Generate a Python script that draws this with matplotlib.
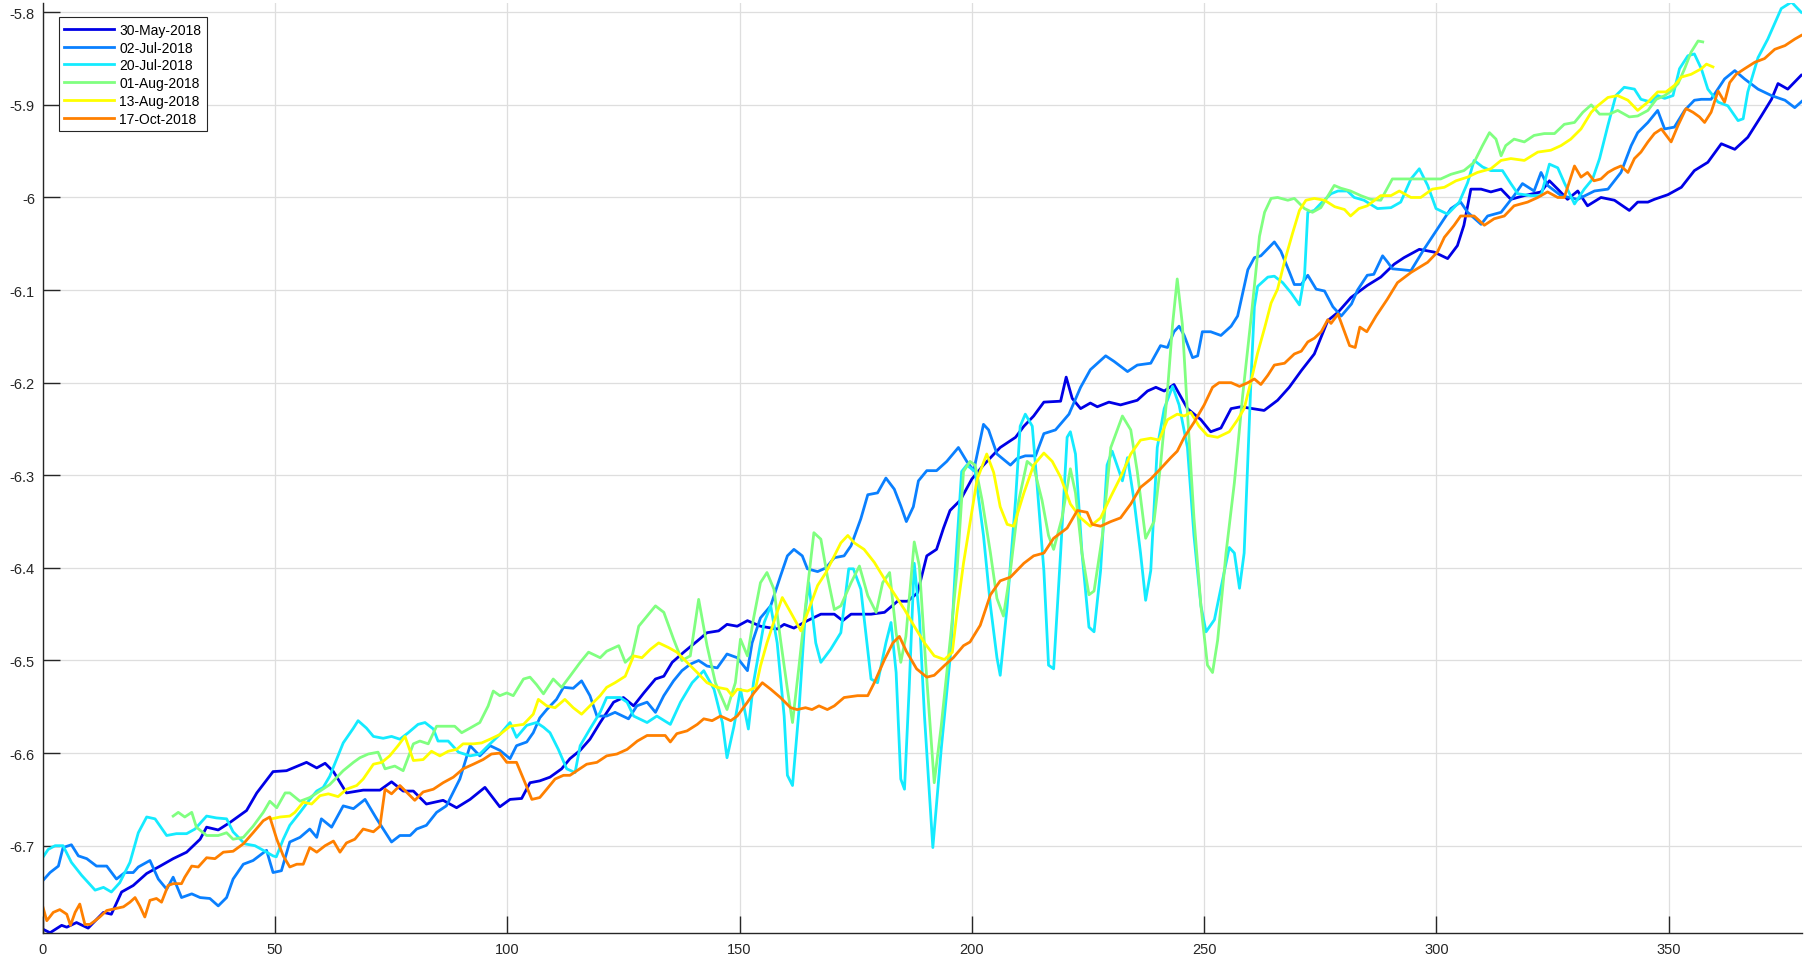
import matplotlib
matplotlib.use('Agg')
import matplotlib.pyplot as plt

plt.rcParams['font.family'] = ['Liberation Sans', 'DejaVu Sans']

labels = ['30-May-2018', '02-Jul-2018', '20-Jul-2018',
          '01-Aug-2018', '13-Aug-2018', '17-Oct-2018']
colors = ['#0000E6', '#0A80FF', '#14EBFF', '#80FF80', '#FFFF00', '#FF8000']

# 30-May-2018
x_may30 = [0, 1.6, 4.1, 5.2, 7.3, 9.8, 13.1, 14.8, 17, 19.5, 22.4, 25.3, 28.1, 31, 33.9, 35.3,
           37.8, 40.3, 43.9, 46.1, 49.6, 52.5, 56.8, 59, 60.8, 62.6, 65.4, 69, 72.6, 75.1,
           77.6, 79.8, 82.6, 86.2, 89.1, 92, 95.2, 98.4, 100.6, 103.1, 104.9, 107, 109.2,
           111.7, 113.5, 115.7, 117.8, 120, 122.9, 125, 127.2, 129.4, 131.9, 133.7, 135.5,
           138, 140.9, 143, 145.5, 147.3, 149.5, 151.7, 154.5, 158.1, 159.6, 161.7, 164.6,
           167.5, 170.4, 172.2, 174, 178.3, 181.2, 184, 186.2, 188.3, 190.3, 192.4, 193.9,
           195.3, 197.5, 200, 202.5, 206.1, 209.4, 211.2, 213.3, 215.5, 219.1, 220.3, 221.6,
           223.4, 225.5, 227, 229.5, 232, 235.6, 237.8, 239.6, 241.4, 243.5, 246.4, 249.3,
           251.4, 253.6, 255.8, 257.9, 262.9, 265.8, 268.3, 270.9, 273.7, 276.6, 278.8,
           281.6, 285.1, 288, 290.9, 293, 296.3, 299.5, 302.4, 304.5, 305.9, 307.4, 309.6,
           311.7, 313.9, 316, 318.9, 322.5, 324.3, 326.1, 328.2, 330.4, 332.5, 335.4, 338.3,
           341.5, 343.3, 345.5, 346.9, 349.8, 352.7, 355.5, 358.4, 361.3, 364.2, 367, 369.9,
           372.1, 373.5, 375.6, 378.5]
y_may30 = [-6.790, -6.794, -6.786, -6.788, -6.783, -6.789, -6.772, -6.774, -6.750, -6.743,
           -6.730, -6.722, -6.714, -6.707, -6.693, -6.680, -6.683, -6.675, -6.662, -6.643,
           -6.620, -6.619, -6.610, -6.616, -6.611, -6.620, -6.643, -6.640, -6.640, -6.631,
           -6.641, -6.641, -6.655, -6.651, -6.659, -6.650, -6.637, -6.658, -6.650, -6.649,
           -6.632, -6.630, -6.626, -6.617, -6.606, -6.597, -6.585, -6.567, -6.545, -6.540,
           -6.549, -6.535, -6.520, -6.517, -6.502, -6.491, -6.479, -6.470, -6.468, -6.461,
           -6.463, -6.457, -6.463, -6.466, -6.461, -6.465, -6.457, -6.450, -6.450, -6.457,
           -6.450, -6.450, -6.448, -6.436, -6.436, -6.427, -6.387, -6.380, -6.357, -6.338,
           -6.327, -6.304, -6.289, -6.270, -6.259, -6.247, -6.236, -6.221, -6.220, -6.194,
           -6.217, -6.228, -6.222, -6.226, -6.221, -6.224, -6.219, -6.209, -6.205, -6.209,
           -6.202, -6.228, -6.240, -6.253, -6.249, -6.228, -6.226, -6.230, -6.219, -6.205,
           -6.187, -6.169, -6.133, -6.124, -6.108, -6.095, -6.086, -6.072, -6.065, -6.056,
           -6.059, -6.066, -6.052, -6.030, -5.991, -5.991, -5.994, -5.991, -6.002, -5.998,
           -5.994, -5.982, -5.991, -6.002, -5.993, -6.009, -6.000, -6.003, -6.014, -6.005,
           -6.005, -6.002, -5.997, -5.989, -5.971, -5.962, -5.942, -5.948, -5.935, -5.912,
           -5.894, -5.877, -5.883, -5.868]

# 02-Jul-2018
x_jul02 = [0, 1.6, 3.4, 4.4, 6.2, 7.7, 9.5, 11.6, 13.8, 15.9, 17.7, 19.5, 20.6, 23.1, 24.9,
           26.7, 28.1, 29.9, 32.1, 33.9, 36, 37.8, 39.6, 41, 43.2, 45.3, 48.2, 49.6, 51.4,
           53.2, 55.4, 57.5, 59, 60, 62.2, 64.7, 66.9, 69.4, 71.9, 75.1, 76.9, 79.1, 80.5,
           82.6, 84.8, 86.9, 89.8, 92, 94.1, 96.3, 98.4, 100.6, 102, 104.2, 105.6, 107,
           108.5, 110.6, 112.1, 114.2, 116, 117.8, 119.3, 121.4, 123.2, 126.1, 127.9, 130.1,
           131.9, 133.7, 135.8, 137.6, 139.4, 141.2, 143, 145.2, 147.3, 149.5, 151.7, 152.7,
           154.5, 156.7, 158.8, 160.3, 161.7, 163.5, 164.6, 166.8, 168.6, 170.4, 172.5, 174,
           176.1, 177.6, 179.7, 181.5, 183.3, 184.7, 185.9, 187.4, 188.5, 190.3, 192.4,
           194.6, 197.1, 198.9, 200.4, 202.5, 203.6, 205.4, 208.3, 209.7, 211.5, 213.7,
           215.5, 218, 220.9, 223.4, 225.5, 228.8, 230.6, 233.5, 235.6, 238.5, 240.6, 242.1,
           243.5, 244.6, 245.7, 247.5, 248.6, 249.6, 251.4, 253.6, 255.8, 257.2, 259.4,
           260.8, 262.2, 265.1, 266.5, 268.3, 269.4, 270.9, 272.3, 274.1, 275.9, 277.7,
           279.5, 281.7, 283, 285.1, 286.5, 288.4, 289.5, 290.5, 294.5, 297.3, 300.2, 303.1,
           305.2, 306.7, 309.6, 311, 313.9, 316.7, 318.5, 321, 322.5, 323.9, 326.8, 330.4,
           334, 336.9, 339.7, 341.9, 343.3, 345.5, 347.6, 349.1, 351.2, 353.4, 355.5, 357,
           359.1, 362, 364.2, 366.3, 369.2, 372.1, 375, 377.1, 378.9]
y_jul02 = [-6.738, -6.729, -6.722, -6.702, -6.699, -6.711, -6.714, -6.722, -6.722, -6.736,
           -6.729, -6.729, -6.723, -6.716, -6.736, -6.747, -6.734, -6.756, -6.752, -6.756,
           -6.757, -6.765, -6.756, -6.736, -6.720, -6.716, -6.705, -6.729, -6.727, -6.696,
           -6.691, -6.682, -6.691, -6.671, -6.680, -6.657, -6.660, -6.650, -6.671, -6.696,
           -6.689, -6.689, -6.682, -6.678, -6.664, -6.657, -6.628, -6.592, -6.603, -6.592,
           -6.597, -6.606, -6.592, -6.588, -6.578, -6.562, -6.553, -6.542, -6.529, -6.530,
           -6.522, -6.538, -6.560, -6.560, -6.556, -6.563, -6.549, -6.545, -6.556, -6.538,
           -6.522, -6.511, -6.504, -6.500, -6.506, -6.508, -6.493, -6.497, -6.511, -6.481,
           -6.454, -6.441, -6.409, -6.387, -6.380, -6.387, -6.401, -6.404, -6.400, -6.389,
           -6.387, -6.376, -6.347, -6.321, -6.319, -6.303, -6.315, -6.333, -6.350, -6.334,
           -6.306, -6.295, -6.295, -6.285, -6.270, -6.285, -6.295, -6.245, -6.251, -6.277,
           -6.289, -6.282, -6.279, -6.279, -6.255, -6.251, -6.234, -6.205, -6.186, -6.171,
           -6.177, -6.188, -6.181, -6.179, -6.160, -6.162, -6.145, -6.139, -6.149, -6.173,
           -6.171, -6.145, -6.145, -6.149, -6.139, -6.128, -6.078, -6.065, -6.063, -6.048,
           -6.058, -6.080, -6.094, -6.094, -6.084, -6.099, -6.101, -6.118, -6.128, -6.115,
           -6.100, -6.084, -6.083, -6.063, -6.070, -6.077, -6.079, -6.056, -6.034, -6.012,
           -6.005, -6.016, -6.029, -6.020, -6.016, -5.998, -5.985, -5.993, -5.973, -5.987,
           -5.998, -6.002, -5.993, -5.991, -5.973, -5.944, -5.930, -5.919, -5.906, -5.926,
           -5.924, -5.906, -5.895, -5.894, -5.894, -5.872, -5.863, -5.872, -5.883, -5.890,
           -5.895, -5.903, -5.895]

# 20-Jul-2018
x_jul20 = [0, 1.2, 2.7, 4.4, 6.2, 8.4, 11.3, 13.1, 14.8, 16.6, 18.8, 20.6, 22.4, 24.2, 26.7,
           28.8, 31, 32.8, 35.3, 37.4, 39.6, 41, 43.5, 45.7, 47.5, 49.6, 50.3, 51.8, 53.2,
           55.4, 57.5, 59, 60.4, 61.8, 64.7, 66.9, 67.9, 69.7, 71.2, 73.3, 75.1, 76.9, 78.7,
           80.8, 82.3, 84.1, 85.1, 87.3, 89.5, 92, 94.1, 96.3, 98.4, 100.6, 102, 104.2,
           106.3, 107.8, 109.2, 111, 112.8, 114.6, 115.7, 117.8, 120, 121.4, 124.3, 125.8,
           127.2, 130.1, 132.2, 135.1, 137.3, 139.8, 142.3, 144.5, 146.3, 147.3, 148.8,
           150.2, 151.9, 153, 155.3, 156.7, 158.1, 159.6, 160.3, 161.4, 162.8, 164.2, 164.9,
           166.4, 167.5, 169.6, 171.8, 173.5, 174.5, 176.1, 178.3, 179.7, 181.5, 182.6,
           183.7, 184.7, 185.5, 186.5, 187.6, 188.7, 189.8, 191.6, 193.4, 195.5, 196.4,
           197.8, 198.9, 200.7, 202.5, 204, 205.4, 206.1, 207.6, 209.4, 210.4, 211.5, 213,
           214, 215.5, 216.5, 217.6, 219.1, 220.5, 221.2, 222.3, 223.7, 225.2, 226.3, 227.7,
           229.1, 230.2, 232.4, 233.5, 234.9, 236.3, 237.4, 238.5, 239.9, 241.4, 243.2,
           244.6, 246.4, 247.8, 249.3, 250.4, 252.2, 253.6, 255.4, 256.5, 257.6, 258.6,
           260.1, 260.8, 261.5, 263.7, 265.1, 266.9, 268.7, 270.5, 271.6, 272.3, 273.7,
           275.2, 277.3, 278.8, 280.8, 282.3, 284.4, 287.3, 290.2, 292.3, 294.5, 296.3,
           298.1, 299.9, 302.4, 304.9, 306.7, 308.1, 309.9, 311.7, 314.2, 316, 317.5, 320.3,
           322.5, 324.3, 326.1, 327.5, 329.7, 331.8, 333.6, 335.1, 336.9, 338.6, 340.4,
           342.6, 344, 346.2, 347.6, 349.1, 350.9, 352.3, 354.1, 355.5, 357, 358.4, 360.6,
           362.7, 364.9, 366, 367, 369.2, 371.3, 374.2, 376.4, 378.5]
y_jul20 = [-6.713, -6.704, -6.700, -6.700, -6.718, -6.732, -6.748, -6.745, -6.750, -6.740,
           -6.718, -6.686, -6.669, -6.671, -6.689, -6.687, -6.687, -6.682, -6.668, -6.670,
           -6.671, -6.685, -6.698, -6.700, -6.705, -6.711, -6.712, -6.693, -6.678, -6.664,
           -6.650, -6.641, -6.637, -6.625, -6.589, -6.573, -6.565, -6.573, -6.582, -6.584,
           -6.582, -6.585, -6.578, -6.569, -6.567, -6.574, -6.587, -6.587, -6.599, -6.603,
           -6.601, -6.590, -6.580, -6.567, -6.583, -6.570, -6.567, -6.572, -6.578, -6.596,
           -6.617, -6.621, -6.592, -6.574, -6.556, -6.540, -6.540, -6.545, -6.560, -6.567,
           -6.560, -6.569, -6.545, -6.524, -6.511, -6.531, -6.567, -6.605, -6.571, -6.531,
           -6.574, -6.524, -6.459, -6.441, -6.481, -6.560, -6.624, -6.635, -6.553, -6.445,
           -6.416, -6.481, -6.502, -6.488, -6.470, -6.401, -6.401, -6.423, -6.520, -6.524,
           -6.481, -6.459, -6.513, -6.628, -6.639, -6.531, -6.395, -6.452, -6.560, -6.702,
           -6.596, -6.488, -6.403, -6.296, -6.289, -6.296, -6.365, -6.441, -6.497, -6.516,
           -6.441, -6.327, -6.247, -6.234, -6.247, -6.308, -6.403, -6.505, -6.509, -6.384,
           -6.259, -6.253, -6.277, -6.384, -6.464, -6.469, -6.403, -6.289, -6.274, -6.306,
           -6.281, -6.327, -6.384, -6.435, -6.403, -6.270, -6.228, -6.204, -6.224, -6.270,
           -6.365, -6.441, -6.469, -6.456, -6.422, -6.378, -6.384, -6.422, -6.384, -6.194,
           -6.118, -6.096, -6.086, -6.085, -6.092, -6.103, -6.116, -6.084, -6.016, -6.014,
           -6.006, -5.996, -5.993, -5.993, -6.000, -6.003, -6.012, -6.011, -6.005, -5.980,
           -5.969, -5.987, -6.012, -6.018, -6.005, -5.984, -5.960, -5.967, -5.971, -5.971,
           -5.985, -5.996, -5.998, -5.998, -5.964, -5.968, -5.984, -6.007, -5.991, -5.980,
           -5.958, -5.922, -5.890, -5.881, -5.883, -5.894, -5.897, -5.890, -5.893, -5.890,
           -5.861, -5.847, -5.845, -5.861, -5.883, -5.897, -5.901, -5.917, -5.915, -5.886,
           -5.849, -5.829, -5.796, -5.789, -5.800]

# 01-Aug-2018
x_aug01 = [28.1, 29.2, 30.6, 32.1, 33.1, 35.3, 37.8, 39.6, 41, 43.2, 45.3, 47.5, 48.9, 50.4,
           52.2, 53.2, 55.4, 57.5, 59.7, 61.8, 64.7, 66.9, 68.3, 70.1, 72.2, 73.7, 75.8,
           77.6, 79.8, 81.2, 83, 84.8, 86.9, 88.7, 90.2, 92, 94.1, 95.9, 97, 98.4, 99.9,
           101.3, 103.5, 104.9, 106.3, 107.8, 109.9, 111.7, 113.5, 115.7, 117.5, 120, 121.4,
           124, 125.4, 126.9, 128.3, 130.1, 131.9, 133.7, 135.8, 137.6, 139.4, 141.2, 143,
           144.8, 147.3, 149.1, 150.2, 151.7, 153, 154.5, 155.9, 157.4, 158.8, 160.3, 161.4,
           162.8, 164.6, 166, 167.5, 168.9, 170.4, 171.8, 174, 175.8, 177.6, 179.4, 180.8,
           182.3, 183.7, 184.7, 185.8, 187.6, 188.7, 190.1, 191.9, 193.4, 195.5, 196.8,
           198.2, 199.6, 200.7, 202.2, 204, 205.4, 206.8, 208.3, 210.1, 211.9, 213.3, 215.1,
           216.5, 217.6, 219.4, 221.2, 222.3, 223.7, 225.2, 226.3, 228.1, 229.9, 232.4,
           234.2, 235.6, 237.4, 239.2, 240.6, 242.1, 243.2, 244.2, 245.3, 246.4, 247.8,
           249.3, 250.7, 251.8, 252.9, 254.7, 256.5, 258.3, 260.1, 261.9, 263, 264.4, 265.8,
           268, 269.4, 271.6, 273.3, 275.1, 278, 279.4, 281.5, 283.7, 285.8, 288, 290.5,
           292.3, 295.2, 298.1, 300.9, 303.1, 305.9, 308.1, 309.9, 311.4, 312.8, 313.9,
           314.9, 316.7, 318.9, 321, 323.2, 325.4, 327.5, 329.7, 331.5, 333.3, 335.1, 337.2,
           339, 341.5, 343.3, 345.5, 347.3, 349.1, 350.5, 352, 353.4, 354.8, 356.3, 357.3]
y_aug01 = [-6.668, -6.664, -6.669, -6.664, -6.680, -6.689, -6.689, -6.686, -6.693, -6.691,
           -6.679, -6.664, -6.652, -6.659, -6.643, -6.643, -6.652, -6.648, -6.641, -6.634,
           -6.619, -6.610, -6.605, -6.601, -6.599, -6.617, -6.614, -6.619, -6.590, -6.587,
           -6.590, -6.571, -6.571, -6.571, -6.578, -6.573, -6.567, -6.549, -6.533, -6.538,
           -6.535, -6.538, -6.520, -6.518, -6.526, -6.536, -6.520, -6.529, -6.517, -6.502,
           -6.491, -6.497, -6.490, -6.484, -6.502, -6.495, -6.463, -6.452, -6.441, -6.448,
           -6.477, -6.500, -6.495, -6.434, -6.484, -6.524, -6.553, -6.524, -6.477, -6.495,
           -6.455, -6.416, -6.405, -6.423, -6.477, -6.531, -6.567, -6.506, -6.423, -6.362,
           -6.369, -6.409, -6.445, -6.441, -6.416, -6.398, -6.430, -6.448, -6.416, -6.405,
           -6.470, -6.502, -6.474, -6.372, -6.398, -6.506, -6.632, -6.571, -6.470, -6.403,
           -6.296, -6.285, -6.289, -6.327, -6.384, -6.433, -6.452, -6.403, -6.327, -6.285,
           -6.291, -6.327, -6.365, -6.380, -6.346, -6.293, -6.319, -6.384, -6.429, -6.425,
           -6.365, -6.270, -6.236, -6.251, -6.296, -6.368, -6.350, -6.289, -6.209, -6.137,
           -6.088, -6.137, -6.232, -6.346, -6.441, -6.505, -6.513, -6.478, -6.384, -6.308,
           -6.213, -6.130, -6.042, -6.016, -6.001, -6.000, -6.003, -6.001, -6.012, -6.016,
           -6.011, -5.987, -5.990, -5.993, -5.998, -6.002, -6.003, -5.980, -5.980, -5.980,
           -5.980, -5.980, -5.975, -5.971, -5.962, -5.944, -5.930, -5.937, -5.955, -5.944,
           -5.937, -5.940, -5.933, -5.931, -5.931, -5.921, -5.919, -5.908, -5.900, -5.910,
           -5.910, -5.906, -5.913, -5.912, -5.906, -5.894, -5.890, -5.885, -5.877, -5.861,
           -5.843, -5.831, -5.832]

# 13-Aug-2018
x_aug13 = [49.3, 51.1, 53.2, 54.3, 56.1, 57.9, 59.7, 61.5, 63.6, 65.4, 67.6, 69, 71.2, 73,
           74.7, 76.5, 78, 79.8, 81.9, 83.7, 85.5, 87.3, 89.1, 90.5, 92.7, 94.5, 96.3, 98.4,
           100.6, 103.5, 105.6, 106.7, 108.5, 110.3, 112.4, 114.2, 116, 117.8, 120, 121.4,
           123.2, 125.4, 127.2, 129, 130.8, 132.6, 134.7, 136.5, 138.7, 140.9, 143, 145.2,
           147.3, 148.4, 149.5, 151.7, 153.5, 154.5, 155.9, 157.8, 159.2, 161, 163.2, 164.9,
           166.8, 168.6, 170.4, 171.8, 173.3, 174.7, 176.8, 179, 181.2, 183.3, 185.5, 187.6,
           189.8, 191.9, 194.1, 195.8, 196.8, 198.2, 199.8, 201.1, 203.2, 204.7, 206.1,
           207.6, 209, 211.2, 213.3, 215.5, 217.3, 219.1, 221.2, 223.4, 225.5, 227.7, 229.9,
           232, 234.2, 236.3, 238.5, 240.3, 242.1, 244.2, 245.7, 247.1, 248.9, 250.7, 252.9,
           255.4, 257.2, 258.6, 260.1, 261.5, 263, 264.4, 265.8, 267.3, 269, 270.5, 271.9,
           273.7, 275.9, 278.1, 280.2, 281.5, 283.3, 285.1, 288, 290.2, 292, 294.5, 296.6,
           299.1, 301.7, 304.2, 306.7, 308.8, 311.7, 313.9, 316, 318.9, 321.8, 324.6, 326.8,
           328.9, 331.1, 333.3, 334.7, 336.9, 339, 341.2, 343.3, 345.5, 347.6, 349.4, 351.2,
           352.7, 354.8, 357, 358.1, 359.5]
y_aug13 = [-6.671, -6.669, -6.668, -6.664, -6.653, -6.655, -6.646, -6.644, -6.647, -6.639,
           -6.635, -6.628, -6.612, -6.610, -6.603, -6.592, -6.582, -6.608, -6.607, -6.598,
           -6.603, -6.598, -6.596, -6.590, -6.590, -6.589, -6.585, -6.580, -6.571, -6.569,
           -6.558, -6.542, -6.549, -6.551, -6.542, -6.551, -6.558, -6.549, -6.538, -6.529,
           -6.524, -6.517, -6.495, -6.497, -6.488, -6.481, -6.486, -6.491, -6.502, -6.513,
           -6.524, -6.529, -6.531, -6.538, -6.531, -6.533, -6.529, -6.506, -6.481, -6.452,
           -6.432, -6.448, -6.468, -6.445, -6.419, -6.405, -6.387, -6.373, -6.365, -6.373,
           -6.380, -6.394, -6.412, -6.428, -6.445, -6.463, -6.481, -6.495, -6.499, -6.491,
           -6.448, -6.395, -6.345, -6.305, -6.277, -6.297, -6.334, -6.353, -6.355, -6.319,
           -6.289, -6.276, -6.285, -6.302, -6.331, -6.346, -6.355, -6.346, -6.323, -6.302,
           -6.277, -6.262, -6.260, -6.262, -6.240, -6.234, -6.236, -6.232, -6.247, -6.257,
           -6.259, -6.253, -6.240, -6.228, -6.198, -6.168, -6.141, -6.114, -6.099, -6.069,
           -6.039, -6.014, -6.003, -6.001, -6.003, -6.010, -6.013, -6.020, -6.012, -6.009,
           -5.998, -5.998, -5.993, -6.000, -6.000, -5.991, -5.989, -5.982, -5.978, -5.973,
           -5.969, -5.960, -5.958, -5.960, -5.951, -5.949, -5.944, -5.937, -5.926, -5.908,
           -5.901, -5.892, -5.890, -5.895, -5.906, -5.897, -5.886, -5.886, -5.879, -5.870,
           -5.867, -5.861, -5.856, -5.859]

# 17-Oct-2018
x_oct17 = [0, 0.9, 2.3, 3.7, 5.2, 6, 7, 8, 9.1, 10.2, 11.3, 12.3, 13.8, 15.6, 17.4, 18.8,
           19.9, 20.9, 22, 23.1, 24.5, 25.6, 27, 28.1, 29.9, 30.6, 32.1, 33.5, 35.3, 37.1,
           38.9, 41, 43.2, 45.3, 47.5, 48.9, 50.4, 51.8, 53.2, 54.7, 56.1, 57.5, 59, 60.8,
           62.6, 64, 65.4, 67.2, 69, 71.2, 72.6, 73.7, 75.1, 76.9, 78.3, 80.1, 81.9, 84.1,
           86.2, 88.4, 90.5, 92.7, 94.8, 96.6, 98.4, 99.9, 102, 103.5, 105.3, 107, 108.5,
           110.3, 112.1, 113.5, 115, 117.1, 119.3, 121.4, 123.6, 125.8, 128, 130.1, 134,
           135.1, 136.5, 138.7, 140.9, 142.3, 144.1, 145.9, 148.1, 149.5, 151.7, 153.1,
           154.9, 156.7, 158.8, 161, 162.4, 164.2, 165.6, 167.1, 168.9, 170.4, 172.5, 175.4,
           177.6, 179, 181.2, 183, 184.4, 185.9, 188.1, 190.3, 191.9, 194.2, 196, 198.2,
           199.6, 201.8, 204, 206.1, 208.3, 211.2, 213.3, 215.5, 217.6, 220.5, 222.7, 224.8,
           225.9, 227.7, 229.9, 232, 234.2, 236.3, 238.5, 240.6, 242.8, 244.2, 245.7, 247.8,
           250, 251.8, 253.2, 255.8, 257.6, 259.4, 260.8, 262.2, 263.7, 265.1, 267.3, 269.4,
           270.9, 272.3, 273.7, 275.2, 276.6, 277.3, 278.8, 280.2, 281.3, 282.5, 283.5, 285,
           287, 289.4, 291.6, 294.5, 298.1, 300.2, 301.7, 303.8, 305.2, 308.1, 310.3, 312.4,
           314.6, 316.7, 319.6, 321.8, 323.9, 326.1, 327.5, 329.7, 331.1, 332.5, 333.9,
           335.4, 336.9, 338.3, 339.7, 341.2, 342.6, 344, 345.5, 346.9, 348.4, 350.5, 352,
           353.7, 355.2, 356.6, 357.7, 359.1, 360.6, 362, 363.1, 364.5, 366.3, 368.5, 370.6,
           372.8, 375, 377.1, 378.5]
y_oct17 = [-6.765, -6.781, -6.772, -6.769, -6.774, -6.786, -6.772, -6.763, -6.785, -6.785,
           -6.781, -6.777, -6.770, -6.768, -6.766, -6.761, -6.756, -6.765, -6.777, -6.759,
           -6.757, -6.761, -6.743, -6.741, -6.741, -6.734, -6.722, -6.723, -6.713, -6.714,
           -6.707, -6.706, -6.698, -6.686, -6.673, -6.669, -6.693, -6.711, -6.723, -6.720,
           -6.720, -6.702, -6.707, -6.700, -6.695, -6.707, -6.697, -6.693, -6.682, -6.685,
           -6.679, -6.639, -6.644, -6.635, -6.642, -6.651, -6.642, -6.639, -6.632, -6.626,
           -6.617, -6.612, -6.607, -6.601, -6.600, -6.610, -6.610, -6.628, -6.650, -6.648,
           -6.639, -6.628, -6.624, -6.624, -6.619, -6.612, -6.610, -6.603, -6.601, -6.596,
           -6.587, -6.581, -6.581, -6.588, -6.579, -6.576, -6.569, -6.563, -6.565, -6.560,
           -6.565, -6.560, -6.545, -6.535, -6.524, -6.531, -6.540, -6.551, -6.553, -6.551,
           -6.553, -6.549, -6.553, -6.549, -6.540, -6.538, -6.538, -6.524, -6.499, -6.481,
           -6.474, -6.490, -6.509, -6.518, -6.516, -6.505, -6.497, -6.484, -6.480, -6.462,
           -6.429, -6.414, -6.410, -6.395, -6.387, -6.384, -6.368, -6.357, -6.338, -6.340,
           -6.353, -6.355, -6.350, -6.346, -6.331, -6.313, -6.304, -6.293, -6.281, -6.274,
           -6.259, -6.243, -6.224, -6.205, -6.200, -6.200, -6.204, -6.200, -6.196, -6.202,
           -6.192, -6.181, -6.179, -6.169, -6.166, -6.156, -6.152, -6.145, -6.132, -6.136,
           -6.126, -6.145, -6.160, -6.162, -6.140, -6.145, -6.128, -6.110, -6.092, -6.081,
           -6.070, -6.059, -6.043, -6.030, -6.020, -6.020, -6.030, -6.023, -6.020, -6.009,
           -6.005, -6.000, -5.994, -6.000, -6.000, -5.966, -5.978, -5.973, -5.982, -5.980,
           -5.973, -5.969, -5.966, -5.973, -5.958, -5.951, -5.940, -5.931, -5.926, -5.940,
           -5.922, -5.904, -5.908, -5.913, -5.919, -5.908, -5.885, -5.897, -5.876, -5.867,
           -5.861, -5.854, -5.850, -5.840, -5.836, -5.829, -5.825]

xs = [x_may30, x_jul02, x_jul20, x_aug01, x_aug13, x_oct17]
ys = [y_may30, y_jul02, y_jul20, y_aug01, y_aug13, y_oct17]

x_ticks = [0, 50, 100, 150, 200, 250, 300, 350]
y_ticks = [-6.7, -6.6, -6.5, -6.4, -6.3, -6.2, -6.1, -6.0, -5.9, -5.8]
y_ticklabels = ['-6.7', '-6.6', '-6.5', '-6.4', '-6.3', '-6.2', '-6.1', '-6', '-5.9', '-5.8']

W, H = 1804, 962
fig = plt.figure(figsize=(W / 100, H / 100), dpi=100)
ax = fig.add_axes([42.6 / W, 1 - 934.3 / H, (1801.7 - 42.6) / W, (934.3 - 4) / H])

for x, y, c, lab in zip(xs, ys, colors, labels):
    ax.plot(x, y, color=c, lw=2.0, label=lab, solid_joinstyle='round')

ax.set_xlim(0, 378.6)
ax.set_ylim(-6.7946, -5.790)
ax.set_xticks(x_ticks)
ax.set_yticks(y_ticks)
ax.set_yticklabels(y_ticklabels)
ax.grid(True, color='#dedede', lw=0.9)
ax.set_axisbelow(True)
for s in ['top', 'right']:
    ax.spines[s].set_visible(False)
for s in ['left', 'bottom']:
    ax.spines[s].set_color('#262626')
    ax.spines[s].set_linewidth(1.0)
ax.tick_params(direction='in', length=12.5, width=1.0, color='#262626',
               labelcolor='#262626', labelsize=10.5)
ax.tick_params(axis='y', pad=5.5)
ax.tick_params(axis='x', pad=6.0)

leg = ax.legend(loc='upper left', bbox_to_anchor=(58.7 / W, 1 - 18.3 / H),
                bbox_transform=fig.transFigure, borderaxespad=0, fontsize=10,
                handlelength=3.55, handletextpad=0.4, labelspacing=0.27,
                borderpad=0.4, fancybox=False, framealpha=1)
leg.get_frame().set_edgecolor('#262626')
leg.get_frame().set_linewidth(0.8)

fig.savefig('out.png', dpi=100)
